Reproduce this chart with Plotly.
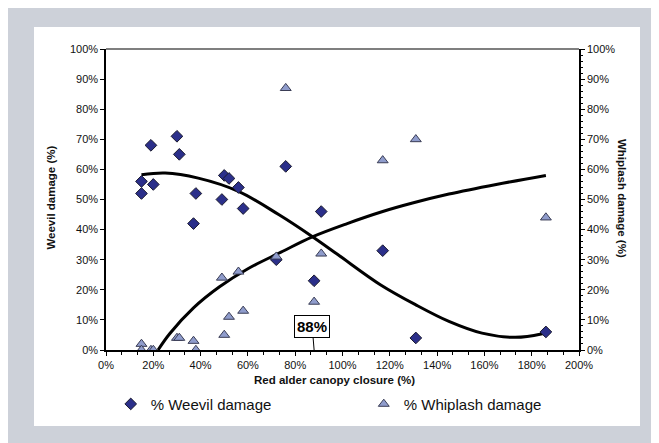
import plotly.graph_objects as go

# Weevil damage observations (% canopy closure, % damage)
weevil_x = [15, 15, 19, 20, 30, 31, 37, 38, 49, 50, 52, 56, 58, 72, 76, 88, 91, 117, 131, 186]
weevil_y = [56, 52, 68, 55, 71, 65, 42, 52, 50, 58, 57, 54, 47, 30, 61, 23, 46, 33, 4, 6]

# Whiplash damage observations
whip_x = [15, 15, 19, 20, 30, 31, 37, 38, 49, 50, 52, 56, 58, 72, 76, 88, 91, 117, 131, 186]
whip_y = [2, 0, 0, 0, 4, 4, 3, 0, 24, 5, 11, 26, 13, 31, 87, 16, 32, 63, 70, 44]

# Trend lines
weevil_trend_x = [15, 25, 39, 56, 73, 87, 98, 116, 131, 145, 159, 173, 184, 186]
weevil_trend_y = [58.2, 58.8, 57.1, 52.7, 45, 37.8, 31.7, 21.7, 15, 9.5, 5.6, 4.2, 5.3, 5.8]

whip_trend_x = [22, 27, 37, 48, 60, 74, 87, 102, 117, 130, 145, 165, 186]
whip_trend_y = [0, 5.5, 14, 21, 27, 32.5, 37.5, 42, 46, 48.9, 51.8, 55, 58]

x_ticks = [0, 20, 40, 60, 80, 100, 120, 140, 160, 180, 200]
x_labels = ["0%", "20%", "40%", "60%", "80%", "100%", "120%", "140%", "160%", "180%", "200%"]
y_ticks = [0, 10, 20, 30, 40, 50, 60, 70, 80, 90, 100]
y_labels = ["0%", "10%", "20%", "30%", "40%", "50%", "60%", "70%", "80%", "90%", "100%"]

callout_x = 88
callout_text = "88%"

FONT = "Liberation Sans, Arial, sans-serif"

fig = go.Figure()

fig.add_trace(go.Scatter(
    x=weevil_trend_x, y=weevil_trend_y, mode="lines",
    line=dict(color="black", width=3, shape="spline"),
    showlegend=False, hoverinfo="skip"))
fig.add_trace(go.Scatter(
    x=whip_trend_x, y=whip_trend_y, mode="lines", yaxis="y2",
    line=dict(color="black", width=3, shape="spline"),
    showlegend=False, hoverinfo="skip"))

fig.add_trace(go.Scatter(
    x=weevil_x, y=weevil_y, mode="markers", name="% Weevil damage",
    marker=dict(symbol="diamond", size=9, color="#2b2f8a",
                line=dict(color="#1a1a2e", width=1)),
    legend="legend"))
fig.add_trace(go.Scatter(
    x=whip_x, y=whip_y, mode="markers", name="% Whiplash damage", yaxis="y2",
    marker=dict(symbol="triangle-up", size=9.5, color="#8f9ccc",
                line=dict(color="#3a3d55", width=1)),
    legend="legend2"))

tickfont = dict(family=FONT, size=11, color="#111")

fig.update_layout(
    width=659, height=443,
    paper_bgcolor="#cdd1d9", plot_bgcolor="white",
    margin=dict(l=98, r=88, t=41, b=101),
    font=dict(family=FONT),
    xaxis=dict(range=[0, 200], tickvals=x_ticks, ticktext=x_labels,
               showgrid=False, zeroline=False, showline=True,
               linecolor="black", linewidth=1.5, ticks="outside",
               ticklen=4, tickcolor="black", tickfont=tickfont,
               minor=dict(dtick=20 / 3, ticks="outside", ticklen=3,
                          tickcolor="black")),
    yaxis=dict(range=[0, 100], tickvals=y_ticks, ticktext=y_labels,
               showgrid=False, zeroline=False, showline=True,
               linecolor="black", linewidth=1.5, ticks="outside",
               ticklen=4, tickcolor="black", tickfont=tickfont),
    yaxis2=dict(range=[0, 100], tickvals=y_ticks, ticktext=y_labels,
                overlaying="y", side="right",
                showgrid=False, zeroline=False, showline=True,
                linecolor="black", linewidth=1.5, ticks="outside",
                ticklen=4, tickcolor="black", tickfont=tickfont,
                minor=dict(dtick=2, ticks="outside", ticklen=2,
                           tickcolor="black")),
    legend=dict(x=0.01, y=-0.18, xanchor="left", yanchor="middle",
                orientation="h", bgcolor="rgba(0,0,0,0)",
                font=dict(family=FONT, size=15, color="#111")),
    legend2=dict(x=0.545, y=-0.18, xanchor="left", yanchor="middle",
                 orientation="h", bgcolor="rgba(0,0,0,0)",
                 font=dict(family=FONT, size=15, color="#111")),
    shapes=[
        dict(type="rect", xref="paper", yref="paper",
             x0=-0.1522, x1=1.129, y0=-0.2525, y1=1.0731,
             fillcolor="white", line=dict(width=0), layer="below"),
        dict(type="line", xref="paper", yref="paper",
             x0=0, x1=1, y0=1, y1=1,
             line=dict(color="#555555", width=1.5)),
    ],
    annotations=[
        dict(text="<b>Weevil damage (%)</b>", xref="paper", yref="paper",
             x=-0.134, y=0.505, textangle=-90, showarrow=False,
             font=dict(family=FONT, size=11.5, color="#111")),
        dict(text="<b>Whiplash damage (%)</b>", xref="paper", yref="paper",
             x=1.108, y=0.505, textangle=90, showarrow=False,
             font=dict(family=FONT, size=11.5, color="#111")),
        dict(text="<b>Red alder canopy closure (%)</b>", xref="paper", yref="paper",
             x=0.483, y=-0.127, showarrow=False,
             font=dict(family=FONT, size=11.5, color="#111")),
        dict(text="<b>" + callout_text + "</b>", x=callout_x, y=0,
             xref="x", yref="y", ax=-2, ay=-24, axref="pixel", ayref="pixel",
             showarrow=True, arrowhead=0, arrowwidth=1, arrowcolor="black",
             bordercolor="black", borderwidth=1, borderpad=2, bgcolor="white",
             font=dict(family=FONT, size=15, color="black")),
    ],
)

fig.write_html("out.html")
